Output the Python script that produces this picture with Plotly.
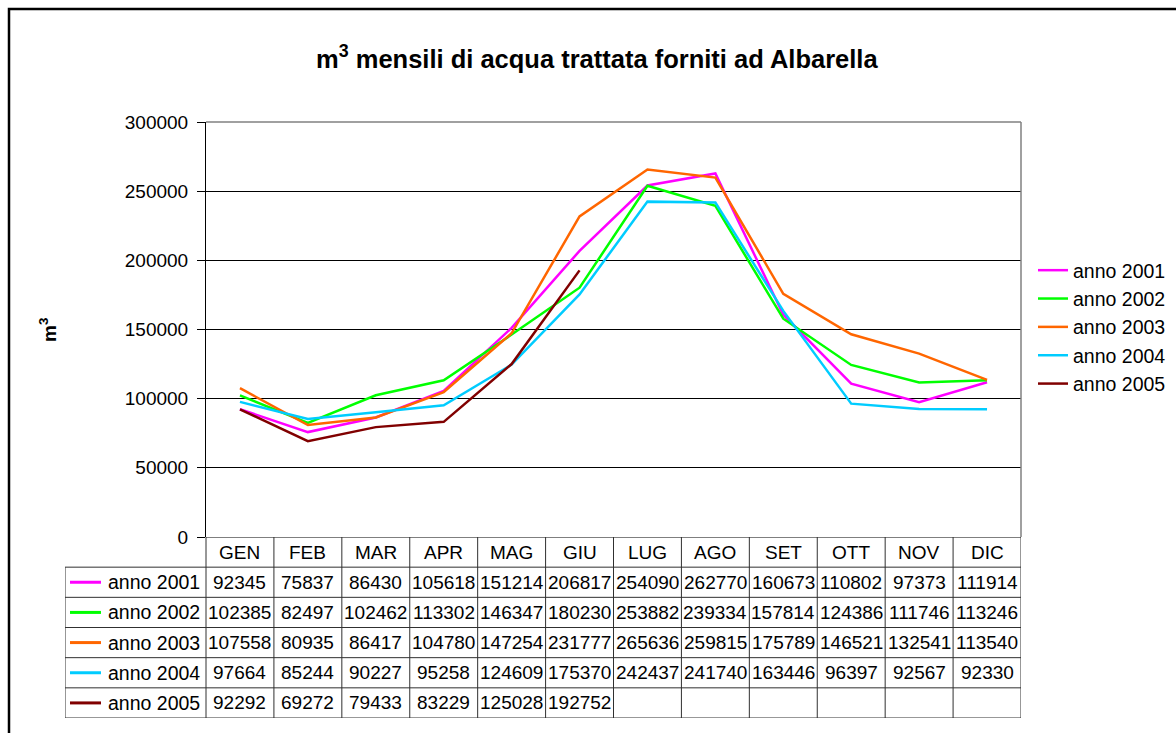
import plotly.graph_objects as go

W, H = 1176, 733

months = ["GEN", "FEB", "MAR", "APR", "MAG", "GIU", "LUG", "AGO", "SET", "OTT", "NOV", "DIC"]
series_names = ["anno 2001", "anno 2002", "anno 2003", "anno 2004", "anno 2005"]
anno_2001 = [92345, 75837, 86430, 105618, 151214, 206817, 254090, 262770, 160673, 110802, 97373, 111914]
anno_2002 = [102385, 82497, 102462, 113302, 146347, 180230, 253882, 239334, 157814, 124386, 111746, 113246]
anno_2003 = [107558, 80935, 86417, 104780, 147254, 231777, 265636, 259815, 175789, 146521, 132541, 113540]
anno_2004 = [97664, 85244, 90227, 95258, 124609, 175370, 242437, 241740, 163446, 96397, 92567, 92330]
anno_2005 = [92292, 69272, 79433, 83229, 125028, 192752, None, None, None, None, None, None]
series_values = [anno_2001, anno_2002, anno_2003, anno_2004, anno_2005]
colors = ["#FF00FF", "#00FF00", "#FF6600", "#00CCFF", "#800000"]
y_ticks = [0, 50000, 100000, 150000, 200000, 250000, 300000]

FONT = "Liberation Sans, Arial, sans-serif"
FS = 19

# pixel layout (reference screen pixels)
PL, PR, PT, PB = 206, 1021, 122, 537
TL, TB = 65, 718


def px_x(p):
    return p / W


def px_y(p):
    return 1 - p / H


unit = (PR - PL) / len(months)
lab_left = -0.5 - (PL - TL) / unit
n_rows = len(series_names) + 1

fig = go.Figure()
x_idx = list(range(len(months)))
for name, vals, col in zip(series_names, series_values, colors):
    fig.add_trace(go.Scatter(x=x_idx, y=vals, name=name, mode="lines",
                             line=dict(color=col, width=2.5), connectgaps=False,
                             xaxis="x", yaxis="y"))

shapes = []
annotations = []

# table grid
gcol = "#303030"
for r in range(n_rows + 1):
    yy = r - 0.5
    x0 = -0.5 if r == 0 else lab_left
    shapes.append(dict(type="line", xref="x2", yref="y2", x0=x0, x1=len(months) - 0.5,
                       y0=yy, y1=yy, line=dict(color=gcol if r else "#000000", width=1)))
for c in range(len(months) + 1):
    xx = c - 0.5
    shapes.append(dict(type="line", xref="x2", yref="y2", x0=xx, x1=xx,
                       y0=-0.5, y1=n_rows - 0.5, line=dict(color=gcol, width=1)))
shapes.append(dict(type="line", xref="x2", yref="y2", x0=lab_left, x1=lab_left,
                   y0=0.5, y1=n_rows - 0.5, line=dict(color=gcol, width=1)))

for i, m in enumerate(months):
    annotations.append(dict(x=i, y=0, xref="x2", yref="y2", text=m, showarrow=False,
                            xanchor="center", yanchor="middle",
                            font=dict(family=FONT, size=FS, color="black")))
for r, (name, vals, col) in enumerate(zip(series_names, series_values, colors), start=1):
    annotations.append(dict(x=-0.5, y=r, xref="x2", yref="y2", text=name, showarrow=False,
                            xanchor="right", yanchor="middle", xshift=-4,
                            font=dict(family=FONT, size=19.5, color="black")))
    shapes.append(dict(type="line", xref="x2", yref="y2",
                       x0=lab_left + 5 / unit, x1=lab_left + 36 / unit, y0=r, y1=r,
                       line=dict(color=col, width=3)))
    for i, v in enumerate(vals):
        if v is None:
            continue
        annotations.append(dict(x=i, y=r, xref="x2", yref="y2", text=str(v), showarrow=False,
                                xanchor="center", yanchor="middle",
                                font=dict(family=FONT, size=FS, color="black")))

# plot frame (top/right gray)
shapes.append(dict(type="line", xref="paper", yref="paper", x0=px_x(PL), x1=px_x(PR),
                   y0=px_y(PT), y1=px_y(PT), line=dict(color="#808080", width=1.5)))
shapes.append(dict(type="line", xref="paper", yref="paper", x0=px_x(PR), x1=px_x(PR),
                   y0=px_y(PT), y1=px_y(PB), line=dict(color="#808080", width=1.5)))
# outer chart border
shapes.append(dict(type="rect", xref="paper", yref="paper", x0=px_x(9), x1=1.05,
                   y0=-0.05, y1=px_y(9), line=dict(color="black", width=2.5)))

annotations.append(dict(x=px_x(597), y=px_y(57), xref="paper", yref="paper",
                        xanchor="center", yanchor="middle",
                        text="<b>m<sup>3</sup> mensili di acqua trattata forniti ad Albarella</b>",
                        showarrow=False, font=dict(family=FONT, size=25.5, color="black")))
annotations.append(dict(x=px_x(48), y=px_y(330), xref="paper", yref="paper",
                        xanchor="center", yanchor="middle",
                        text="<b>m<sup>3</sup></b>", textangle=-90,
                        showarrow=False, font=dict(family=FONT, size=FS, color="black")))

fig.update_layout(
    width=W, height=H, autosize=False,
    margin=dict(l=0, r=0, t=0, b=0, pad=0, autoexpand=False),
    paper_bgcolor="white", plot_bgcolor="white",
    font=dict(family=FONT, size=FS, color="black"),
    showlegend=True,
    legend=dict(x=px_x(1033), y=px_y(251), xanchor="left", yanchor="top",
                font=dict(family=FONT, size=19.5, color="black"),
                bgcolor="rgba(0,0,0,0)", tracegroupgap=0, itemwidth=30),
    xaxis=dict(domain=[px_x(PL), px_x(PR)], range=[-0.5, len(months) - 0.5],
               showticklabels=False, showgrid=False, zeroline=False, showline=False,
               ticks="", automargin=False),
    yaxis=dict(domain=[px_y(PB), px_y(PT)], range=[0, 300000], tickvals=y_ticks,
               ticktext=[str(v) for v in y_ticks], showgrid=True, gridcolor="black",
               gridwidth=1, zeroline=False, showline=True, linecolor="black", linewidth=1,
               ticks="outside", ticklen=8, tickcolor="black", automargin=False,
               ticklabelstandoff=5,
               tickfont=dict(family=FONT, size=FS, color="black")),
    xaxis2=dict(domain=[px_x(TL), px_x(PR)], range=[lab_left, len(months) - 0.5],
                visible=False, anchor="y2", automargin=False),
    yaxis2=dict(domain=[px_y(TB), px_y(PB)], range=[n_rows - 0.5, -0.5],
                visible=False, anchor="x2", automargin=False),
    shapes=shapes,
    annotations=annotations,
)

fig.write_html("out.html", config={"displayModeBar": False},
               post_script="document.body.style.margin='0';document.body.style.overflow='hidden';")
